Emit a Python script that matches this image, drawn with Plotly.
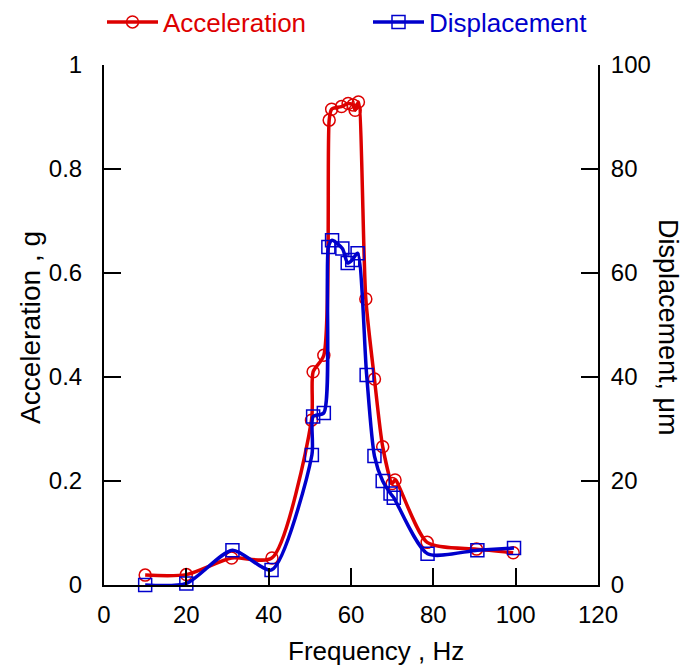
import plotly.graph_objects as go

# Acceleration (g) vs frequency (Hz)
freq_acc = [10, 20, 31, 40.8, 50.4, 50.8, 53.4, 54.7, 55.3, 57.7, 59.3, 60.5, 61.0, 61.8,
            63.6, 65.7, 67.7, 70.0, 70.7, 78.5, 90.5, 99.4]
acc = [0.019, 0.020, 0.052, 0.052, 0.317, 0.410, 0.442, 0.894, 0.915, 0.920, 0.926, 0.923,
       0.913, 0.929, 0.550, 0.396, 0.266, 0.195, 0.202, 0.082, 0.069, 0.062]

# Displacement (um) vs frequency (Hz)
freq_disp = [10, 20, 31.2, 40.7, 50.5, 50.8, 53.4, 54.5, 55.4, 57.9, 59.2, 60.3, 61.6,
             63.8, 65.7, 67.7, 69.6, 70.4, 78.6, 90.7, 99.6]
disp = [0.0, 0.3, 6.7, 2.9, 25.0, 32.4, 33.1, 65.0, 66.3, 64.7, 61.9, 62.5, 63.8,
        40.4, 24.8, 20.0, 17.6, 16.8, 6.0, 6.7, 7.1]

x_ticks = [0, 20, 40, 60, 80, 100, 120]
y1_ticks = [0, 0.2, 0.4, 0.6, 0.8, 1]
y2_ticks = [0, 20, 40, 60, 80, 100]

RED = "#dd0000"
BLUE = "#0000cc"
FONT = "Liberation Sans, Arial, sans-serif"

fig = go.Figure()
fig.add_trace(go.Scatter(
    x=freq_acc, y=acc, mode="lines+markers",
    name=f"<span style='color:{RED}'>Acceleration</span>", legend="legend",
    line=dict(color=RED, width=3.5, shape="spline", smoothing=0.7),
    marker=dict(symbol="circle-open", size=12, color=RED, line=dict(width=1.5, color=RED)),
    cliponaxis=False, yaxis="y"))
fig.add_trace(go.Scatter(
    x=freq_disp, y=disp, mode="lines+markers",
    name=f"<span style='color:{BLUE}'>Displacement</span>", legend="legend2",
    line=dict(color=BLUE, width=3.5, shape="spline", smoothing=0.7),
    marker=dict(symbol="square-open", size=13, color=BLUE, line=dict(width=1.5, color=BLUE)),
    cliponaxis=False, yaxis="y2"))

axis_common = dict(showgrid=False, zeroline=False, showline=True, linecolor="black",
                   linewidth=2, ticks="inside", ticklen=17, tickwidth=2, tickcolor="black",
                   automargin=False,
                   tickfont=dict(family=FONT, size=24, color="black"))

legend_common = dict(orientation="h", xref="container", yref="container",
                     y=1 - 14 / 665, xanchor="left", yanchor="middle", itemwidth=51,
                     font=dict(family=FONT, size=26), bgcolor="rgba(0,0,0,0)")

fig.update_layout(
    width=689, height=665,
    margin=dict(l=96, r=99, t=57, b=88, autoexpand=False),
    paper_bgcolor="white", plot_bgcolor="white",
    font=dict(family=FONT, color="black"),
    showlegend=True,
    legend=dict(x=94 / 689, **legend_common),
    legend2=dict(x=360 / 689, **legend_common),
    xaxis=dict(range=[0, 120], tickvals=x_ticks, ticklabelstandoff=7, **axis_common),
    yaxis=dict(range=[0, 1], tickvals=y1_ticks, ticklabelstandoff=15, **axis_common),
    yaxis2=dict(range=[0, 100], tickvals=y2_ticks, overlaying="y", side="right",
                ticklabelstandoff=6, **axis_common),
    annotations=[
        dict(text="Frequency , Hz", xref="paper", yref="paper", x=0.55, y=-0.127,
             xanchor="center", yanchor="middle", showarrow=False,
             font=dict(family=FONT, size=26, color="black")),
        dict(text="Acceleration , g", xref="paper", yref="paper", x=-0.15, y=0.496,
             xanchor="center", yanchor="middle", showarrow=False, textangle=-90,
             font=dict(family=FONT, size=28, color="black")),
        dict(text="Displacement, μm", xref="paper", yref="paper", x=1.142, y=0.496,
             xanchor="center", yanchor="middle", showarrow=False, textangle=90,
             font=dict(family=FONT, size=27, color="black")),
    ],
)

fig.write_html("out.html")
